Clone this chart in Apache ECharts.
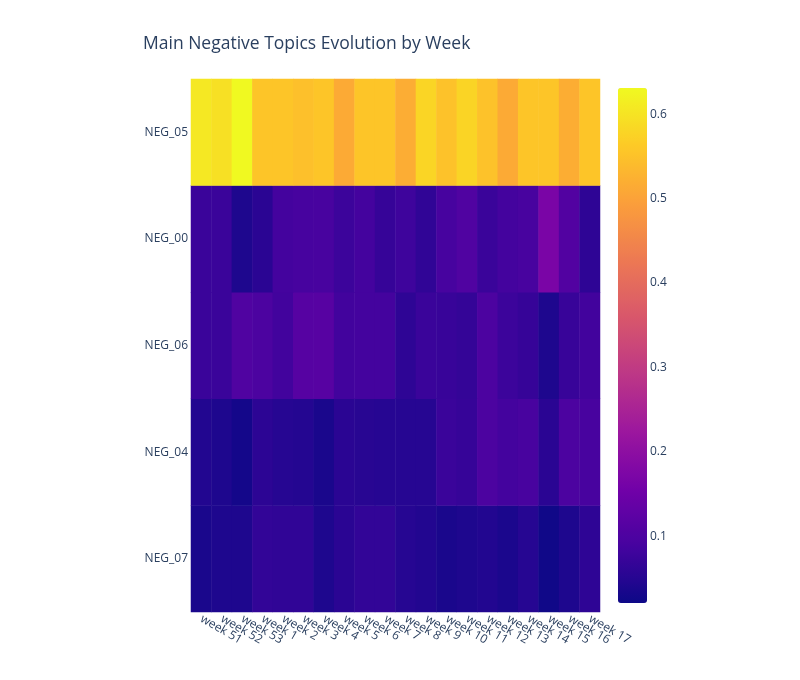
<!DOCTYPE html>
<html>
<head>
<meta charset="utf-8">
<script src="https://cdn.jsdelivr.net/npm/echarts@6/dist/echarts.min.js"></script>
<style>html,body{margin:0;padding:0;background:#fff}#c{width:800px;height:680px}</style>
</head>
<body>
<div id="c"></div>
<script>
const weeks = ['week 51','week 52','week 53','week 1','week 2','week 3','week 4','week 5','week 6','week 7','week 8','week 9','week 10','week 11','week 12','week 13','week 14','week 15','week 16','week 17'];
// bottom to top
const topics = ['NEG_07','NEG_04','NEG_06','NEG_00','NEG_05'];
const neg05 = [0.607,0.595,0.631,0.555,0.555,0.547,0.555,0.513,0.555,0.555,0.517,0.579,0.550,0.577,0.550,0.513,0.555,0.555,0.518,0.555];
const neg00 = [0.074,0.074,0.041,0.055,0.086,0.091,0.092,0.077,0.086,0.070,0.079,0.063,0.091,0.104,0.074,0.086,0.092,0.169,0.107,0.060];
const neg06 = [0.074,0.074,0.104,0.098,0.084,0.113,0.115,0.084,0.086,0.086,0.060,0.074,0.072,0.067,0.098,0.077,0.070,0.041,0.072,0.084];
const neg04 = [0.046,0.041,0.029,0.058,0.051,0.048,0.036,0.055,0.053,0.051,0.051,0.051,0.074,0.070,0.098,0.086,0.092,0.055,0.098,0.092];
const neg07 = [0.036,0.041,0.041,0.065,0.063,0.063,0.041,0.055,0.065,0.065,0.051,0.046,0.036,0.041,0.046,0.038,0.051,0.025,0.041,0.060];
const colorTicks = [0.1,0.2,0.3,0.4,0.5,0.6];
const cMin = 0.021, cMax = 0.631;

const rows = [neg07, neg04, neg06, neg00, neg05];
const data = [];
rows.forEach((r, yi) => r.forEach((v, xi) => data.push([xi, yi, v])));

const font = '"Open Sans", "DejaVu Sans", sans-serif';
const txt = '#2a3f5f';
const plasma = ['#0d0887','#46039f','#7201a8','#9c179e','#bd3786','#d8576b','#ed7953','#fb9f3a','#fdca26','#f0f921'];

const chart = echarts.init(document.getElementById('c'), null, {renderer:'canvas'});
chart.setOption({
  backgroundColor: '#fff',
  animation: false,
  title: {
    text: 'Main Negative Topics Evolution by Week',
    left: 138, top: 30,
    textStyle: {fontFamily: font, fontSize: 17.5, fontWeight: 'normal', color: txt}
  },
  grid: [
    {left: 191, top: 79, width: 409, height: 533},
    {left: 618, top: 88, width: 29, height: 515}
  ],
  xAxis: [
    {type: 'category', data: weeks, gridIndex: 0,
     axisLine: {show: false}, axisTick: {show: false}, splitLine: {show: false},
     axisLabel: {rotate: -30, margin: 6, fontFamily: font, fontSize: 12, color: txt, interval: 0}},
    {type: 'value', gridIndex: 1, show: false, min: 0, max: 1}
  ],
  yAxis: [
    {type: 'category', data: topics, gridIndex: 0,
     axisLine: {show: false}, axisTick: {show: false}, splitLine: {show: false},
     axisLabel: {margin: 3, fontFamily: font, fontSize: 12, color: txt}},
    {type: 'value', gridIndex: 1, position: 'right', min: cMin, max: cMax,
     axisLine: {show: false}, axisTick: {show: false}, splitLine: {show: false},
     axisLabel: {show: true, customValues: colorTicks, margin: 3, fontFamily: font, fontSize: 12, color: txt,
       formatter: v => String(Math.round(v*10)/10)}}
  ],
  visualMap: {
    type: 'continuous', min: cMin, max: cMax, calculable: false,
    seriesIndex: 0,
    orient: 'vertical', left: 618, top: 88, itemWidth: 29, itemHeight: 515,
    padding: 0, text: ['', ''], showLabel: false,
    inRange: {color: plasma}
  },
  series: [{
    type: 'heatmap', data: data, xAxisIndex: 0, yAxisIndex: 0,
    itemStyle: {borderWidth: 0},
    emphasis: {disabled: true}
  }]
});
</script>
</body>
</html>
